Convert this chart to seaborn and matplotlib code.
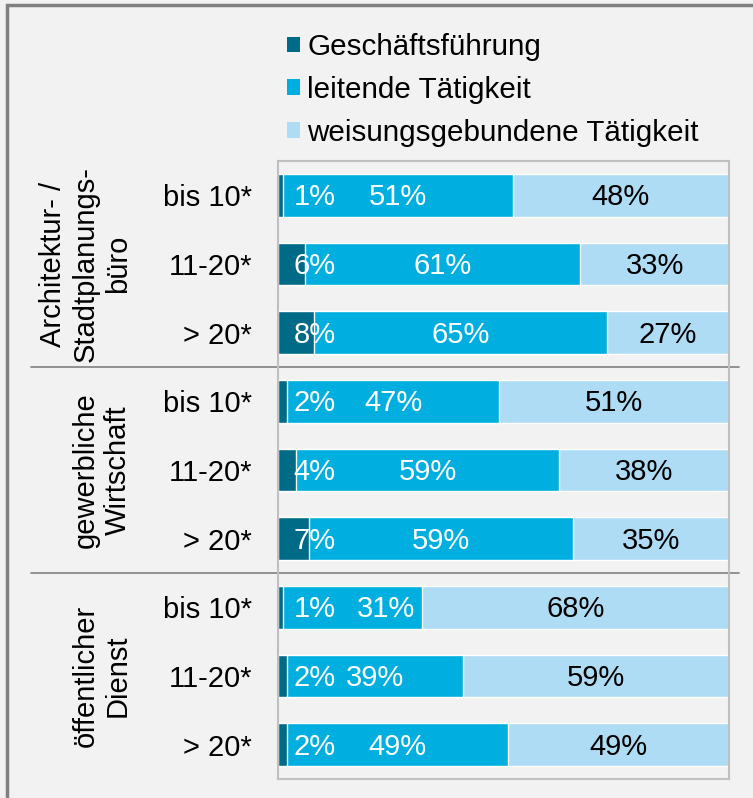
import numpy as np
import pandas as pd
import matplotlib
matplotlib.use('Agg')
import matplotlib.pyplot as plt
import matplotlib.transforms as mtransforms
from matplotlib.patches import Patch, Rectangle
import seaborn as sns

# data
groups = ['Architektur- /\nStadtplanungs-\nbüro', 'gewerbliche\nWirtschaft', 'öffentlicher\nDienst']
sizes = ['bis 10*', '11-20*', '> 20*']
series = ['Geschäftsführung', 'leitende Tätigkeit', 'weisungsgebundene Tätigkeit']
gf = [1, 6, 8, 2, 4, 7, 1, 2, 2]
lt = [51, 61, 65, 47, 59, 59, 31, 39, 49]
wt = [48, 33, 27, 51, 38, 35, 68, 59, 49]
colors = ['#006b87', '#00afdf', '#aedcf5']
bg = '#f2f2f2'

sns.set_theme(style='white')
plt.rcParams['font.family'] = ['Liberation Sans', 'DejaVu Sans']
plt.rcParams['text.color'] = 'black'

rows = ['r%d' % i for i in range(9)]
df = pd.DataFrame({'row': rows, 'gf': gf, 'lt': lt, 'wt': wt})
total = df[['gf', 'lt', 'wt']].sum(axis=1)
# 100% stacked bars, like the original
df['c1'] = df['gf'] / total * 100
df['c2'] = (df['gf'] + df['lt']) / total * 100
df['c3'] = 100.0

W, H = 753, 798
fs = 21
fig = plt.figure(figsize=(W / 100, H / 100), dpi=100, facecolor=bg)
ax = fig.add_axes([278 / W, 1 - 779 / H, (729 - 278) / W, (779 - 161) / H])
ax.set_facecolor(bg)

# draw the cumulative sums back to front so they look stacked
for col, c in zip(['c3', 'c2', 'c1'], colors[::-1]):
    sns.barplot(data=df, x=col, y='row', order=rows, orient='h', color=c,
                saturation=1, width=0.62, edgecolor='white', linewidth=1, ax=ax)

ax.set_xlim(0, 100)
ax.set_ylim(8.5, -0.5)
ax.set_xlabel('')
ax.set_ylabel('')
ax.set_xticks([])
ax.set_yticks(range(9))
ax.set_yticklabels(sizes * 3)
ax.tick_params(axis='y', length=0, pad=18.7, labelsize=fs, labelcolor='black')
for sp in ax.spines.values():
    sp.set_color('#c0c0c0')
    sp.set_linewidth(1.5)

# value labels
mid_nudge = [0, 0, 0, 0, 0, 0, 7.5, 0, 0]
for i in range(9):
    c1, c2 = df['c1'][i], df['c2'][i]
    y = i + 0.03
    ax.text(3.5, y, '%d%%' % gf[i], ha='left', va='center', color='white', fontsize=fs)
    ax.text((c1 + c2) / 2 + mid_nudge[i], y, '%d%%' % lt[i], ha='center', va='center',
            color='white', fontsize=fs)
    ax.text((c2 + 100) / 2, y, '%d%%' % wt[i], ha='center', va='center',
            color='black', fontsize=fs)

# group labels and separators
blend = mtransforms.blended_transform_factory(fig.transFigure, ax.transData)
for g, name in enumerate(groups):
    fig.text(132 / W, 3 * g + 1, name, transform=blend, rotation=90, ha='right', va='center',
             multialignment='center', fontsize=fs, color='black', linespacing=1.2)
for yy in [2.5, 5.5]:
    ax.plot([31 / W, 739 / W], [yy, yy], transform=blend, color='#808080', lw=1.2, clip_on=False)

handles = [Patch(facecolor=c, edgecolor='none', label=s) for c, s in zip(colors, series)]
fig.legend(handles=handles, loc='upper left', bbox_to_anchor=(287 / W, 1 - 33 / H),
           frameon=False, fontsize=21.3, handlelength=0.44, handleheight=0.44,
           handletextpad=0.25, labelspacing=0.5, borderpad=0, borderaxespad=0)

# outer frame (only top and left visible)
fig.add_artist(Rectangle((7 / W, -0.05), 1.1, 1.05 - 5 / H, transform=fig.transFigure,
                         fill=False, edgecolor='#808080', lw=2.5))

fig.savefig('out.png', dpi=100, facecolor=bg)
